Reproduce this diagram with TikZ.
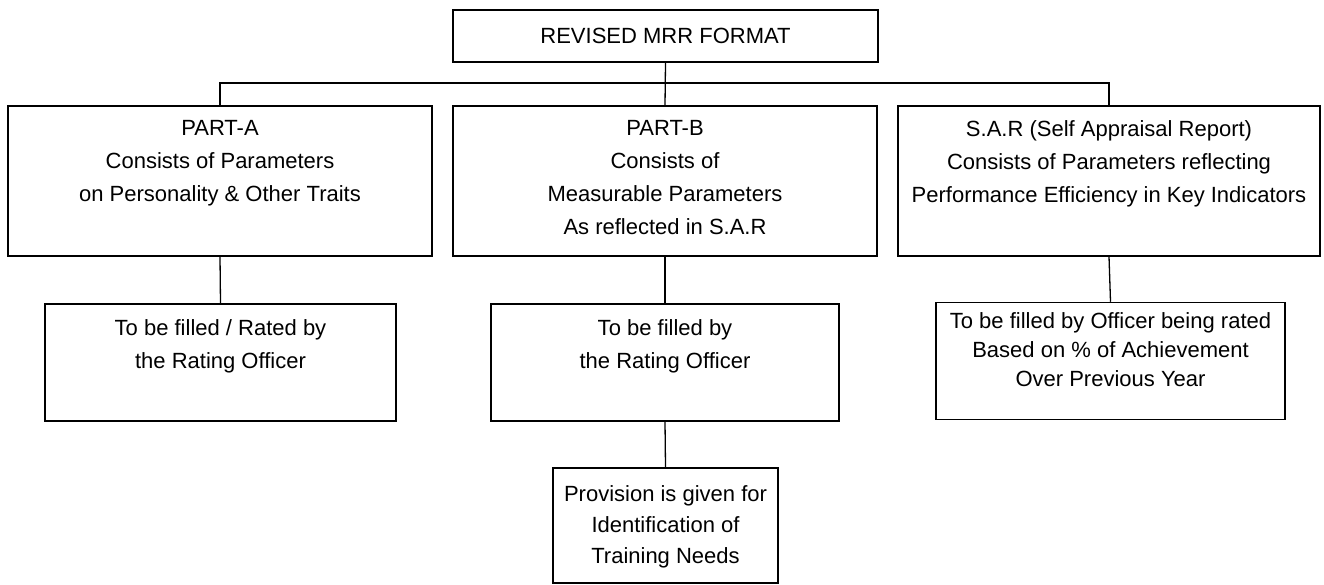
\documentclass[tikz,border=0pt]{standalone}
\usepackage{fontspec}
\setmainfont{Liberation Sans}
\usepackage{tikz}
\usetikzlibrary{positioning}

\tikzset{
  mrrbox/.style={draw, line width=1.5pt, minimum height=150pt, inner sep=0pt},
  fillbox/.style={draw, line width=1.5pt, minimum height=117pt, inner sep=0pt},
  boxtext/.style={inner sep=0pt, align=center, font=\fontsize{22}{33}\selectfont},
  link/.style={line width=1.3pt},
}

\begin{document}
\begin{tikzpicture}[x=1pt, y=-1pt]
  \useasboundingbox (0,0) rectangle (1324,585);

  % heading
  \node[draw, line width=1.5pt, minimum width=425pt, minimum height=52pt, font=\fontsize{22}{33}\selectfont] (mrr) at (665.5,36) {REVISED MRR FORMAT};

  % three parts
  \node[mrrbox, minimum width=424pt] (parta) at (220,181) {};
  \node[mrrbox, minimum width=424pt] (partb) at (665,181) {};
  \node[mrrbox, minimum width=422pt] (sar) at (1109,181) {};
  \node[boxtext, below=15pt of parta.north] (partatext) {PART-A\\Consists of Parameters\\on Personality \& Other Traits};
  \node[boxtext, below=15pt of partb.north] (partbtext) {PART-B\\Consists of\\Measurable Parameters\\As reflected in S.A.R};
  \node[boxtext, below=15pt of sar.north] (sartext) {S.A.R (Self Appraisal Report)\\Consists of Parameters reflecting\\Performance Efficiency in Key Indicators};

  % who fills them
  \node[fillbox, minimum width=351pt] (filla) at (220.5,362.5) {};
  \node[fillbox, minimum width=348pt] (fillb) at (665,362.5) {};
  \node[fillbox, minimum width=349pt] (fillsar) at (1110.5,361) {};
  \node[boxtext, below=16pt of filla.north] (fillatext) {To be filled / Rated by\\the Rating Officer};
  \node[boxtext, below=16pt of fillb.north] (fillbtext) {To be filled by\\the Rating Officer};
  \node[boxtext, below=11pt of fillsar.north, font=\fontsize{22}{29}\selectfont] (fillsartext) {To be filled by Officer being rated\\Based on \% of Achievement\\Over Previous Year};

  % training needs
  \node[draw, line width=1.5pt, minimum width=225pt, minimum height=115pt, inner sep=0pt] (train) at (665.5,525.5) {};
  \node[boxtext, below=18pt of train.north, font=\fontsize{22}{31}\selectfont] (traintext) {Provision is given for\\Identification of\\Training Needs};

  % connectors
  \coordinate (bus) at (665,83);
  \draw[link] (mrr.south) -- (partb.north);
  \draw[link] (parta.north) |- (bus) -| (sar.north);
  \draw[link] (parta.south) -- (filla.north);
  \draw[link] (partb.south) -- (fillb.north);
  \draw[link] (sar.south) -- (fillsar.north);
  \draw[link] (fillb.south) -- (train.north);
\end{tikzpicture}
\end{document}
